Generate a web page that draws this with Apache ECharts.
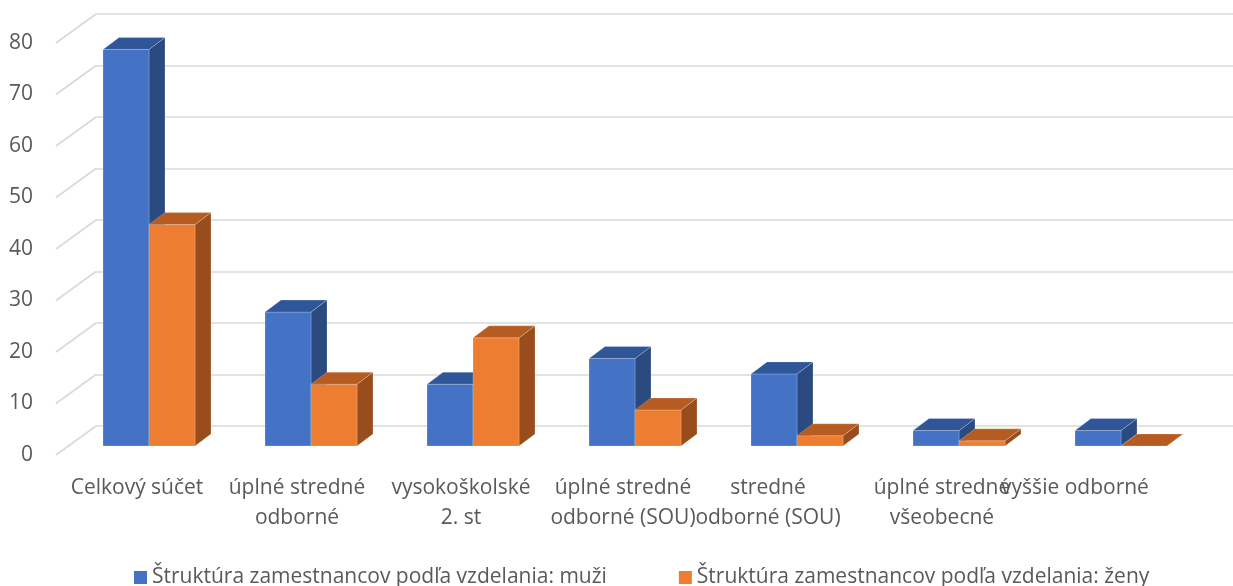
<!DOCTYPE html>
<html>
<head>
<meta charset="utf-8">
<script src="https://cdn.jsdelivr.net/npm/echarts@6/dist/echarts.min.js"></script>
<style>
  html, body { margin: 0; padding: 0; background: #fff; }
  #chart { width: 1233px; height: 586px; }
</style>
</head>
<body>
<div id="chart"></div>
<script>
// kategórie (vzdelanie)
var categories = ['Celkový súčet', 'úplné stredné odborné', 'vysokoškolské 2. st',
    'úplné stredné odborné (SOU)', 'stredné odborné (SOU)', 'úplné stredné všeobecné', 'vyššie odborné'];
// popisky osi x, zalomené ako v Exceli
var tickLabels = ['Celkový súčet', 'úplné stredné\nodborné', 'vysokoškolské\n2. st',
    'úplné stredné\nodborné (SOU)', 'stredné\nodborné (SOU)', 'úplné stredné\nvšeobecné', 'vyššie odborné'];
var seriesNames = ['Štruktúra zamestnancov podľa vzdelania: muži', 'Štruktúra zamestnancov podľa vzdelania: ženy'];
var muzi = [77, 26, 12, 17, 14, 3, 3];
var zeny = [43, 12, 21, 7, 2, 1, 0];
var yTicks = [0, 10, 20, 30, 40, 50, 60, 70, 80];

// farby: predná stena, vrch, bok
var faces = [
    { front: '#4472C4', top: '#30569A', side: '#2B4A7F' },
    { front: '#ED7D31', top: '#B65C22', side: '#9A4D1C' }
];
var textColor = '#595959';
var font = 'Open Sans';
// posun popiskov (Excel ich v 3D neumiestňuje rovnomerne)
var labelShift = [0, -2, 0, 0, -17, -5, -34];
var depthX = 16, depthY = 12;     // hĺbka stĺpca
var wallX = 40, wallY = 29;       // posun zadnej steny

var chart = echarts.init(document.getElementById('chart'));

function barItem(s) {
    return function (params, api) {
        var i = api.value(0);
        var v = api.value(1);
        var band = api.size([1, 0])[0];
        var w = band * 46 / 162;
        var base = api.coord([i, 0]);
        var top = api.coord([i, v]);
        var x0 = base[0] + (s === 0 ? -w : 0);
        var x1 = x0 + w;
        var ty = top[1], by = base[1];
        var f = faces[s];
        var edge = { stroke: 'rgba(255,255,255,0.35)', lineWidth: 0.6 };
        return {
            type: 'group',
            children: [
                { type: 'polygon', shape: { points: [[x1, ty], [x1 + depthX, ty - depthY], [x1 + depthX, by - depthY], [x1, by]] },
                  style: Object.assign({ fill: f.side }, edge) },
                { type: 'rect', shape: { x: x0, y: ty, width: w, height: by - ty },
                  style: Object.assign({ fill: f.front }, edge) },
                { type: 'polygon', shape: { points: [[x0, ty], [x1, ty], [x1 + depthX, ty - depthY], [x0 + depthX, ty - depthY]] },
                  style: Object.assign({ fill: f.top }, edge) }
            ]
        };
    };
}

var rich = {};
for (var k = 0; k < tickLabels.length; k++) {
    rich['s' + k] = {
        fontFamily: font, fontSize: 21, color: textColor, lineHeight: 30,
        padding: [0, -2 * labelShift[k], 0, 0]
    };
}

var option = {
    animation: false,
    backgroundColor: '#fff',
    legend: {
        data: seriesNames,
        left: 129,
        top: 562,
        itemWidth: 13,
        itemHeight: 13,
        itemGap: 72,
        icon: 'rect',
        textStyle: { fontFamily: font, fontSize: 21, color: textColor }
    },
    grid: [
        // predná rovina s popiskami
        { left: 56, right: 43, top: 43, bottom: 131 },
        // zadná stena s mriežkou
        { left: 96, right: 0, top: 14, bottom: 160 },
        // rovina stĺpcov
        { left: 68, right: 31, top: 34, bottom: 140 }
    ],
    xAxis: [
        {
            gridIndex: 0, type: 'category', data: tickLabels,
            axisLine: { show: false }, axisTick: { show: false },
            axisLabel: {
                interval: 0, margin: 18,
                fontFamily: font, fontSize: 21, color: textColor, lineHeight: 30,
                formatter: function (val, idx) { return '{s' + idx + '|' + val + '}'; },
                rich: rich
            }
        },
        { gridIndex: 1, type: 'value', min: 0, max: 1, show: false },
        { gridIndex: 2, type: 'category', data: categories, show: false }
    ],
    yAxis: [
        {
            gridIndex: 0, type: 'value', min: 0, max: 80, interval: 10,
            axisLine: { show: false }, axisTick: { show: false }, splitLine: { show: false },
            axisLabel: { margin: 23, fontFamily: font, fontSize: 21, color: textColor }
        },
        {
            gridIndex: 1, type: 'value', min: 0, max: 80, interval: 10,
            axisLine: { show: false }, axisTick: { show: false }, axisLabel: { show: false },
            splitLine: { lineStyle: { color: '#D9D9D9', width: 1.6 } }
        },
        { gridIndex: 2, type: 'value', min: 0, max: 80, show: false }
    ],
    series: [
        {
            // šikmé čiary ľavej steny
            type: 'custom', xAxisIndex: 1, yAxisIndex: 1, silent: true,
            data: yTicks.map(function (t) { return [0, t]; }),
            renderItem: function (params, api) {
                var p = api.coord([0, api.value(1)]);
                return {
                    type: 'line',
                    shape: { x1: p[0] - wallX, y1: p[1] + wallY, x2: p[0], y2: p[1] },
                    style: { stroke: '#D9D9D9', lineWidth: 1.6 }
                };
            }
        },
        {
            name: seriesNames[0], type: 'custom', xAxisIndex: 2, yAxisIndex: 2,
            itemStyle: { color: faces[0].front },
            data: muzi.map(function (v, i) { return [i, v]; }),
            renderItem: barItem(0)
        },
        {
            name: seriesNames[1], type: 'custom', xAxisIndex: 2, yAxisIndex: 2,
            itemStyle: { color: faces[1].front },
            data: zeny.map(function (v, i) { return [i, v]; }),
            renderItem: barItem(1)
        }
    ]
};

chart.setOption(option);
</script>
</body>
</html>
